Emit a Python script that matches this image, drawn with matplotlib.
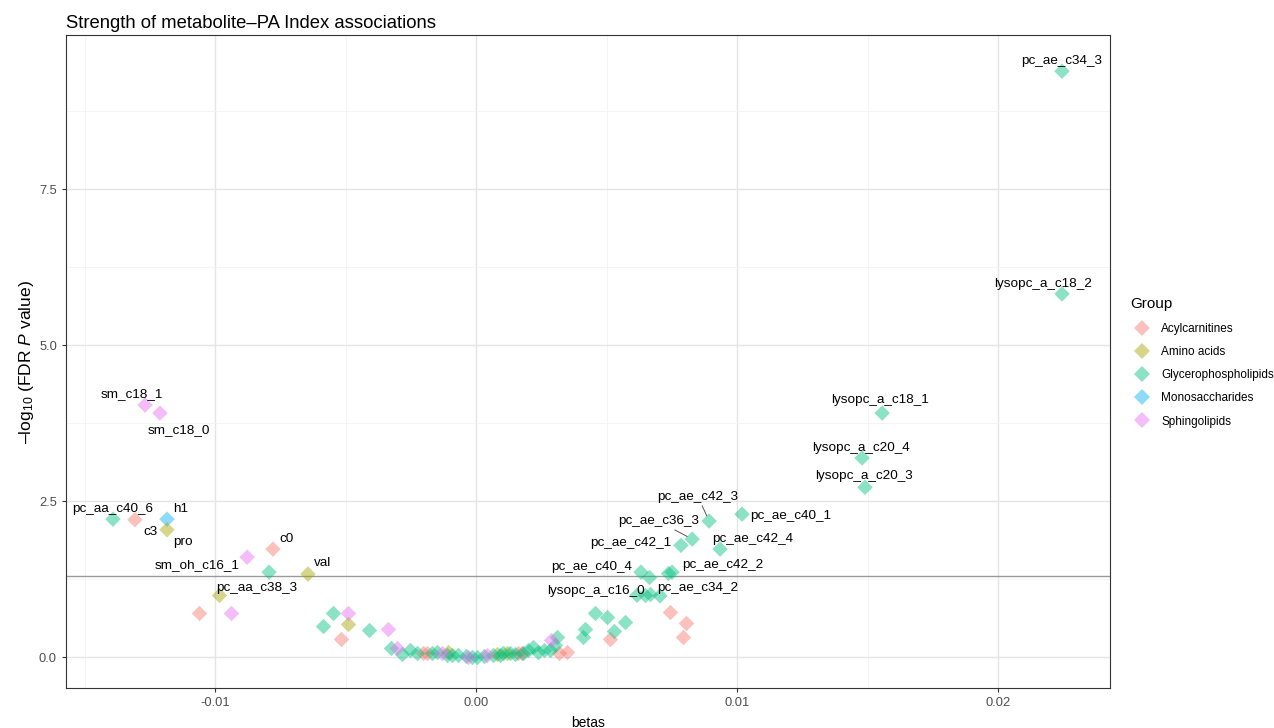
import numpy as np
import matplotlib
matplotlib.use('Agg')
import matplotlib.pyplot as plt
from matplotlib.lines import Line2D

plt.rcParams['font.family'] = ['Liberation Sans', 'DejaVu Sans']
plt.rcParams['mathtext.fontset'] = 'custom'
plt.rcParams['mathtext.rm'] = 'Liberation Sans'
plt.rcParams['mathtext.it'] = 'Liberation Sans:italic'

# group names and ggplot hue colours
groups = ['Acylcarnitines', 'Amino acids', 'Glycerophospholipids',
          'Monosaccharides', 'Sphingolipids']
colors = ['#F8766D', '#A3A500', '#00BF7D', '#00B0F6', '#E76BF3']

# labelled metabolites: name, beta, -log10 FDR p, group index
lab_names = ['pc_ae_c34_3', 'lysopc_a_c18_2', 'lysopc_a_c18_1', 'lysopc_a_c20_4',
             'lysopc_a_c20_3', 'pc_ae_c40_1', 'pc_ae_c42_3', 'pc_ae_c36_3',
             'pc_ae_c42_1', 'pc_ae_c42_4', 'pc_ae_c42_2', 'pc_ae_c40_4',
             'lysopc_a_c16_0', 'pc_ae_c34_2', 'sm_c18_1', 'sm_c18_0',
             'pc_aa_c40_6', 'h1', 'c3', 'pro', 'c0', 'sm_oh_c16_1', 'val',
             'pc_aa_c38_3']
lab_beta = [0.02245, 0.02245, 0.01556, 0.01479, 0.0149, 0.01019, 0.00893, 0.00828,
            0.00785, 0.00935, 0.00751, 0.00632, 0.00617, 0.00705, -0.01268, -0.01211,
            -0.01391, -0.01184, -0.01307, -0.01184, -0.00778, -0.00877, -0.00644,
            -0.00793]
lab_logp = [9.39, 5.82, 3.91, 3.19, 2.72, 2.29, 2.18, 1.89,
            1.79, 1.73, 1.36, 1.36, 0.99, 0.98, 4.04, 3.91,
            2.21, 2.21, 2.20, 2.04, 1.73, 1.60, 1.33, 1.36]
lab_group = [2, 2, 2, 2, 2, 2, 2, 2, 2, 2, 2, 2, 2, 2, 4, 4,
             2, 3, 0, 1, 0, 4, 1, 2]
# label offsets in pixels (dx, dy) and which labels get a segment
lab_dx = [0, -19, -2, -1, -1, 49, -11, -34, -50, 33, 51, -49, -41, 38, -13, 19,
          0, 14, 16, 16, 14, -50, 15, -12]
lab_dy = [10, 10, 13, 10, 11, -2, 24, 18, 2, 10, 7, 5, 4, 8, 11, -17,
          10, 10, -12, -12, 10, -8, 11, -16]
lab_seg = ['pc_ae_c42_3', 'pc_ae_c36_3']

# unlabelled metabolites by group
acyl_beta = [-0.01061, -0.00517, -0.00203, -0.00187, 0.00161, 0.00176, 0.00318, 0.00349,
             0.00513, 0.00743, 0.00805, 0.00793]
acyl_logp = [0.71, 0.29, 0.06, 0.07, 0.06, 0.07, 0.06, 0.08, 0.29, 0.72, 0.54, 0.32]

amino_beta = [-0.00985, -0.00490, -0.00107, 0.0008, 0.0012]
amino_logp = [0.99, 0.53, 0.08, 0.05, 0.07]

sphingo_beta = [-0.00939, -0.00490, -0.00337, -0.00303, -0.0013, -0.00031, 0.00042, 0.00287]
sphingo_logp = [0.71, 0.71, 0.45, 0.15, 0.06, 0.0, 0.03, 0.27]

glyc_beta = [0.00736, 0.00663, 0.00648, 0.00667,
             -0.00548, -0.00586, -0.0041, -0.00326, -0.00284, -0.00253, -0.00226,
             -0.00169, -0.00149, -0.0011, -0.00092, -0.00069, -0.0004, -0.00015,
             0.00004, 0.0003, 0.00065, 0.0009, 0.00103, 0.0013, 0.0015, 0.0018,
             0.002, 0.00218, 0.00238, 0.0026, 0.00284, 0.00303, 0.0031, 0.0041,
             0.00418, 0.00456, 0.00502, 0.00529, 0.00571]
glyc_logp = [1.35, 1.28, 0.99, 1.01,
             0.71, 0.50, 0.43, 0.14, 0.05, 0.11, 0.06,
             0.06, 0.08, 0.04, 0.03, 0.03, 0.02, 0.0,
             0.0, 0.02, 0.03, 0.04, 0.06, 0.06, 0.05, 0.06,
             0.11, 0.16, 0.08, 0.12, 0.11, 0.19, 0.32, 0.32,
             0.45, 0.71, 0.64, 0.42, 0.56]

fig = plt.figure(figsize=(12.74, 7.28), dpi=100)
ax = fig.add_axes([0.0518, 0.0549, 0.8195, 0.897])

# grid like theme_bw
ax.set_xticks([-0.015, -0.005, 0.005, 0.015], minor=True)
ax.set_yticks([1.25, 3.75, 6.25, 8.75], minor=True)
ax.grid(True, which='major', color='#E5E5E5', linewidth=1.0)
ax.grid(True, which='minor', color='#F2F2F2', linewidth=0.6)
ax.set_axisbelow(True)

ax.axhline(-np.log10(0.05), color='#9A9A9A', linewidth=1.0, zorder=1)

ms = 62
al = 0.45
ax.scatter(acyl_beta, acyl_logp, marker='D', s=ms, color=colors[0], alpha=al, lw=0, zorder=2)
ax.scatter(amino_beta, amino_logp, marker='D', s=ms, color=colors[1], alpha=al, lw=0, zorder=2)
ax.scatter(glyc_beta, glyc_logp, marker='D', s=ms, color=colors[2], alpha=al, lw=0, zorder=2)
ax.scatter(sphingo_beta, sphingo_logp, marker='D', s=ms, color=colors[4], alpha=al, lw=0, zorder=2)
ax.scatter(lab_beta, lab_logp, marker='D', s=ms,
           color=[colors[g] for g in lab_group], alpha=al, lw=0, zorder=2)

for i, name in enumerate(lab_names):
    arrow = None
    if name in lab_seg:
        arrow = dict(arrowstyle='-', color='#555555', lw=0.7, shrinkA=0, shrinkB=4)
    ax.annotate(name, (lab_beta[i], lab_logp[i]), xytext=(lab_dx[i], lab_dy[i]),
                textcoords='offset pixels', ha='center', va='center',
                fontsize=9.7, color='black', arrowprops=arrow, zorder=3)

ax.set_xlim(-0.01571, 0.02429)
ax.set_ylim(-0.497, 9.97)
ax.set_xticks([-0.01, 0.0, 0.01, 0.02])
ax.set_xticklabels(['-0.01', '0.00', '0.01', '0.02'])
ax.set_yticks([0.0, 2.5, 5.0, 7.5])
ax.set_yticklabels(['0.0', '2.5', '5.0', '7.5'])
ax.tick_params(which='major', length=3, color='#333333', labelsize=9.3, labelcolor='#4D4D4D')
ax.tick_params(which='minor', length=0)
for sp in ax.spines.values():
    sp.set_color('#333333')
    sp.set_linewidth(0.8)

ax.set_xlabel('betas', fontsize=10, labelpad=5)
ax.set_ylabel(r'–log$_{10}$ (FDR $\it{P}$ value)', fontsize=12.6, labelpad=2)
ax.set_title('Strength of metabolite–PA Index associations', loc='left', fontsize=13.3, pad=5)

handles = [Line2D([], [], marker='D', linestyle='', markersize=8, color=c, alpha=al,
                  markeredgewidth=0) for c in colors]
fig.legend(handles, groups, title='Group', loc='upper left',
           bbox_to_anchor=(0.879, 0.606), frameon=False, fontsize=8.5,
           title_fontsize=11, labelspacing=0.95, handletextpad=0.6,
           alignment='left')

fig.savefig('out.png', dpi=100)
